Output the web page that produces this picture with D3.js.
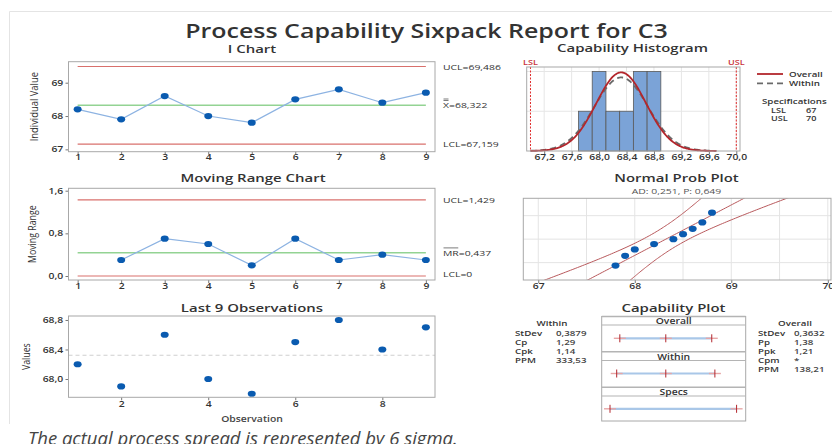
<!DOCTYPE html>
<html>
<head>
<meta charset="utf-8">
<script src="https://cdn.jsdelivr.net/npm/d3@7"></script>
<style>
  html, body { margin: 0; padding: 0; background: #fff; }
  svg { display: block; font-family: "Open Sans", "Noto Sans", sans-serif; }
</style>
</head>
<body>
<svg id="chart" width="832" height="444"></svg>
<script>
// ---- data: C3 observations and capability statistics ----
const observation = [1, 2, 3, 4, 5, 6, 7, 8, 9];
const c3Values = [68.2, 67.9, 68.6, 68.0, 67.8, 68.5, 68.8, 68.4, 68.7];
const movingRange = [null, 0.3, 0.7, 0.6, 0.2, 0.7, 0.3, 0.4, 0.3];

const iUCL = 69.486, iMean = 68.322, iLCL = 67.159;
const mrUCL = 1.429, mrMean = 0.437, mrLCL = 0;

const binStart = [67.7, 67.9, 68.1, 68.3, 68.5, 68.7];
const binCounts = [1, 2, 1, 1, 2, 2];
const binWidth = 0.2;

const LSL = 67, USL = 70;
const sdWithin = 0.3879, sdOverall = 0.3632;
const adText = "AD: 0,251, P: 0,649";

const iTicks = [67, 68, 69];
const mrTicks = [0, 0.8, 1.6];
const lastTicksY = [68.0, 68.4, 68.8];
const lastTicksX = [2, 4, 6, 8];
const histTicks = [67.2, 67.6, 68.0, 68.4, 68.8, 69.2, 69.6, 70.0];
const probTicks = [67, 68, 69, 70];
const probGridX = [67, 67.5, 68, 68.5, 69, 69.5, 70];
const probGridPct = [10, 50, 90];

const withinLabels = ["StDev", "Cp", "Cpk", "PPM"];
const withinValues = ["0,3879", "1,29", "1,14", "333,53"];
const overallLabels = ["StDev", "Pp", "Ppk", "Cpm", "PPM"];
const overallValues = ["0,3632", "1,38", "1,21", "*", "138,21"];

// ---- helpers ----
const SX = 1.3;                       // horizontal widening of lettering
const comma = (v, d) => v.toFixed(d).replace(".", ",");
const svg = d3.select("#chart");

function addText(parent, x, y, str, o = {}) {
  const g = parent.append("g")
    .attr("transform", `translate(${x},${y}) scale(${o.sx ?? SX},1)` + (o.rotate ? " rotate(-90)" : ""));
  const t = g.append("text").text(str)
    .attr("font-size", o.size ?? 8)
    .attr("font-weight", o.weight ?? 400)
    .attr("text-anchor", o.anchor ?? "start")
    .attr("fill", o.fill ?? "#333");
  if (o.italic) t.attr("font-style", "italic");
  return t;
}

function styleAxis(g) {
  g.select(".domain").remove();
  g.attr("font-family", null).attr("font-size", null);
  g.selectAll(".tick line").attr("stroke", "#777");
  g.selectAll(".tick text")
    .attr("font-size", 8).attr("font-weight", 600).attr("fill", "#333")
    .attr("transform", `scale(${SX},1)`);
}

function frame(x0, y0, x1, y1) {
  svg.append("rect").attr("x", x0).attr("y", y0)
    .attr("width", x1 - x0).attr("height", y1 - y0)
    .attr("fill", "none").attr("stroke", "#a8a8a8").attr("stroke-width", 1);
}

function hline(x0, x1, y, color, width, dash) {
  const l = svg.append("line").attr("x1", x0).attr("x2", x1).attr("y1", y).attr("y2", y)
    .attr("stroke", color).attr("stroke-width", width);
  if (dash) l.attr("stroke-dasharray", dash);
  return l;
}

function normPdf(x, m, s) {
  const z = (x - m) / s;
  return Math.exp(-0.5 * z * z) / (s * Math.sqrt(2 * Math.PI));
}

// inverse standard normal CDF (Acklam's rational approximation)
function probit(p) {
  const a = [-3.969683028665376e+01, 2.209460984245205e+02, -2.759285104469687e+02, 1.383577518672690e+02, -3.066479806614716e+01, 2.506628277459239e+00];
  const b = [-5.447609879822406e+01, 1.615858368580409e+02, -1.556989798598866e+02, 6.680131188771972e+01, -1.328068155288572e+01];
  const c = [-7.784894002430293e-03, -3.223964580411365e-01, -2.400758277161838e+00, -2.549732539343734e+00, 4.374664141464968e+00, 2.938163982698783e+00];
  const d = [7.784695709041462e-03, 3.224671290700398e-01, 2.445134137142996e+00, 3.754408661907416e+00];
  const pl = 0.02425;
  let q, r;
  if (p < pl) {
    q = Math.sqrt(-2 * Math.log(p));
    return (((((c[0]*q+c[1])*q+c[2])*q+c[3])*q+c[4])*q+c[5]) / ((((d[0]*q+d[1])*q+d[2])*q+d[3])*q+1);
  }
  if (p > 1 - pl) {
    q = Math.sqrt(-2 * Math.log(1 - p));
    return -(((((c[0]*q+c[1])*q+c[2])*q+c[3])*q+c[4])*q+c[5]) / ((((d[0]*q+d[1])*q+d[2])*q+d[3])*q+1);
  }
  q = p - 0.5; r = q * q;
  return (((((a[0]*r+a[1])*r+a[2])*r+a[3])*r+a[4])*r+a[5])*q / (((((b[0]*r+b[1])*r+b[2])*r+b[3])*r+b[4])*r+1);
}

const BLUE = "#0a5bb0", LINEBLUE = "#8db3e2", RED = "#d9706c", GREEN = "#93d393";

// ---- page border and title ----
svg.append("path").attr("d", "M9.5,424 V11.5 H832").attr("fill", "none").attr("stroke", "#e4e4e4");
addText(svg, 426.5, 38, "Process Capability Sixpack Report for C3", { size: 19.2, weight: 600, anchor: "middle", fill: "#333" });

// ---- I chart ----
{
  const x0 = 68.5, x1 = 435, y0 = 61.7, y1 = 151.7;
  const x = d3.scaleLinear().domain([0.79, 9.21]).range([x0, x1]);
  const y = d3.scaleLinear().domain([66.93, 69.63]).range([y1, y0]);
  addText(svg, 252, 53, "I Chart", { size: 11.5, weight: 600, anchor: "middle" });
  svg.append("g").attr("transform", `translate(${x0},0)`)
    .call(d3.axisLeft(y).tickValues(iTicks).tickSize(3).tickPadding(1).tickFormat(d => d3.format("d")(d)))
    .call(styleAxis);
  svg.append("g").attr("transform", `translate(0,${y1})`)
    .call(d3.axisBottom(x).tickValues(observation).tickSize(3).tickPadding(0).tickFormat(d3.format("d")))
    .call(styleAxis);
  hline(x(1), x(9), y(iUCL), RED, 1.2);
  hline(x(1), x(9), y(iLCL), RED, 1.2);
  hline(x(1), x(9), y(iMean), GREEN, 1.6);
  svg.append("path").datum(c3Values)
    .attr("d", d3.line().x((d, i) => x(observation[i])).y(d => y(d)))
    .attr("fill", "none").attr("stroke", LINEBLUE).attr("stroke-width", 1.2);
  svg.append("g").selectAll("ellipse").data(c3Values).join("ellipse")
    .attr("cx", (d, i) => x(observation[i])).attr("cy", d => y(d))
    .attr("rx", 4).attr("ry", 3.1).attr("fill", BLUE);
  frame(x0, y0, x1, y1);
  addText(svg, 443, y(iUCL) + 3, "UCL=" + comma(iUCL, 3));
  addText(svg, 443, y(iLCL) + 3, "LCL=" + comma(iLCL, 3));
  const xb = addText(svg, 443, y(iMean) + 3, "X");
  const w = xb.node().getComputedTextLength() * SX;
  addText(svg, 443 + w, y(iMean) + 3, "=" + comma(iMean, 3));
  hline(443.5, 443 + w - 0.5, y(iMean) - 4.8, "#444", 0.7);
  hline(443.5, 443 + w - 0.5, y(iMean) - 6.3, "#444", 0.7);
  addText(svg, 38, (y0 + y1) / 2, "Individual Value", { size: 9.4, anchor: "middle", rotate: true, sx: 1.15 });
}

// ---- Moving range chart ----
{
  const x0 = 68.5, x1 = 435, y0 = 188.3, y1 = 280;
  const x = d3.scaleLinear().domain([0.79, 9.21]).range([x0, x1]);
  const y = d3.scaleLinear().domain([-0.075, 1.645]).range([y1, y0]);
  addText(svg, 253, 182, "Moving Range Chart", { size: 11.5, weight: 600, anchor: "middle" });
  svg.append("g").attr("transform", `translate(${x0},0)`)
    .call(d3.axisLeft(y).tickValues(mrTicks).tickSize(3).tickPadding(1).tickFormat(d => comma(d, 1)))
    .call(styleAxis);
  svg.append("g").attr("transform", `translate(0,${y1})`)
    .call(d3.axisBottom(x).tickValues(observation).tickSize(3).tickPadding(0).tickFormat(d3.format("d")))
    .call(styleAxis);
  hline(x(1), x(9), y(mrUCL), RED, 1.2);
  hline(x(1), x(9), y(mrLCL), RED, 1.2);
  hline(x(1), x(9), y(mrMean), GREEN, 1.6);
  const mr = observation.map((o, i) => ({ o, v: movingRange[i] })).filter(d => d.v !== null);
  svg.append("path").datum(mr)
    .attr("d", d3.line().x(d => x(d.o)).y(d => y(d.v)))
    .attr("fill", "none").attr("stroke", LINEBLUE).attr("stroke-width", 1.2);
  svg.append("g").selectAll("ellipse").data(mr).join("ellipse")
    .attr("cx", d => x(d.o)).attr("cy", d => y(d.v))
    .attr("rx", 4).attr("ry", 3.1).attr("fill", BLUE);
  frame(x0, y0, x1, y1);
  addText(svg, 443, y(mrUCL) + 3, "UCL=" + comma(mrUCL, 3));
  addText(svg, 443, y(mrLCL) + 1, "LCL=" + comma(mrLCL, 0));
  const mrb = addText(svg, 443, y(mrMean) + 3, "MR");
  const w = mrb.node().getComputedTextLength() * SX;
  addText(svg, 443 + w, y(mrMean) + 3, "=" + comma(mrMean, 3));
  hline(443.5, 443 + w - 0.5, y(mrMean) - 4.8, "#444", 0.7);
  addText(svg, 36, (y0 + y1) / 2, "Moving Range", { size: 8.8, anchor: "middle", rotate: true, sx: 1.15 });
}

// ---- Last 9 observations ----
{
  const x0 = 68.5, x1 = 435, y0 = 316, y1 = 397.3;
  const x = d3.scaleLinear().domain([0.79, 9.21]).range([x0, x1]);
  const y = d3.scaleLinear().domain([67.752, 68.854]).range([y1, y0]);
  addText(svg, 252, 311.5, "Last 9 Observations", { size: 11.5, weight: 600, anchor: "middle" });
  svg.append("g").attr("transform", `translate(${x0},0)`)
    .call(d3.axisLeft(y).tickValues(lastTicksY).tickSize(3).tickPadding(1).tickFormat(d => comma(d, 1)))
    .call(styleAxis);
  svg.append("g").attr("transform", `translate(0,${y1})`)
    .call(d3.axisBottom(x).tickValues(lastTicksX).tickSize(3).tickPadding(1).tickFormat(d3.format("d")))
    .call(styleAxis);
  hline(x0, x1, y(iMean), "#cfcfcf", 1.2, "4,3");
  svg.append("g").selectAll("ellipse").data(c3Values).join("ellipse")
    .attr("cx", (d, i) => x(observation[i])).attr("cy", d => y(d))
    .attr("rx", 4).attr("ry", 3.1).attr("fill", BLUE);
  frame(x0, y0, x1, y1);
  addText(svg, 252, 421.5, "Observation", { size: 8, weight: 600, anchor: "middle", fill: "#444" });
  addText(svg, 30, (y0 + y1) / 2, "Values", { size: 8.8, anchor: "middle", rotate: true, sx: 1.15 });
}

// ---- Capability histogram ----
{
  const x0 = 526.7, x1 = 740, y0 = 67, y1 = 151;
  const x = d3.scaleLinear().domain([66.945, 70.054]).range([x0, x1]);
  const y = d3.scaleLinear().domain([0, 2.113]).range([y1, y0]);
  addText(svg, 632.5, 52, "Capability Histogram", { size: 11.5, weight: 600, anchor: "middle" });
  const grid = svg.append("g").attr("stroke", "#e6e6e6").attr("stroke-width", 1);
  histTicks.forEach(t => grid.append("line").attr("x1", x(t)).attr("x2", x(t)).attr("y1", y0).attr("y2", y1));
  [1, 2].forEach(c => grid.append("line").attr("x1", x0).attr("x2", x1).attr("y1", y(c)).attr("y2", y(c)));
  svg.append("g").selectAll("rect").data(binStart).join("rect")
    .attr("x", d => x(d)).attr("width", d => x(d + binWidth) - x(d))
    .attr("y", (d, i) => y(binCounts[i])).attr("height", (d, i) => y(0) - y(binCounts[i]))
    .attr("fill", "#7ba3d7").attr("stroke", "#5a5a5a").attr("stroke-width", 0.8);
  const xs = d3.range(67.0, 69.72, 0.01);
  const area = binWidth * c3Values.length;
  svg.append("path").datum(xs)
    .attr("d", d3.line().x(d => x(d)).y(d => y(area * normPdf(d, iMean, sdWithin))))
    .attr("fill", "none").attr("stroke", "#6a6a6a").attr("stroke-width", 1.8).attr("stroke-dasharray", "6,4");
  svg.append("path").datum(xs)
    .attr("d", d3.line().x(d => x(d)).y(d => y(area * normPdf(d, iMean, sdOverall))))
    .attr("fill", "none").attr("stroke", "#b3262c").attr("stroke-width", 1.8);
  [LSL, USL].forEach(s => svg.append("line").attr("x1", x(s)).attr("x2", x(s)).attr("y1", y0).attr("y2", y1)
    .attr("stroke", "#e02a2a").attr("stroke-width", 1).attr("stroke-dasharray", "2,1.5"));
  addText(svg, x(LSL), 64.5, "LSL", { size: 7, weight: 600, anchor: "middle", fill: "#c8323a" });
  addText(svg, x(USL), 64.5, "USL", { size: 7, weight: 600, anchor: "middle", fill: "#c8323a" });
  svg.append("g").attr("transform", `translate(0,${y1})`)
    .call(d3.axisBottom(x).tickValues(histTicks).tickSize(3).tickPadding(0).tickFormat(d => comma(d, 1)))
    .call(styleAxis);
  frame(x0, y0, x1, y1);
  // legend
  hline(757, 783, 74, "#b3262c", 1.8);
  hline(757, 783, 83.3, "#6a6a6a", 1.8, "6,4");
  addText(svg, 789, 77, "Overall", { size: 7.5, weight: 600 });
  addText(svg, 789, 86.3, "Within", { size: 7.5, weight: 600 });
  addText(svg, 762, 104, "Specifications", { size: 7.5, weight: 600 });
  addText(svg, 771, 112.8, "LSL", { size: 7, weight: 600 });
  addText(svg, 806, 112.8, String(LSL), { size: 7, weight: 600 });
  addText(svg, 771, 121.2, "USL", { size: 7, weight: 600 });
  addText(svg, 806, 121.2, String(USL), { size: 7, weight: 600 });
}

// ---- Normal probability plot ----
{
  const x0 = 523.3, x1 = 831, y0 = 198.3, y1 = 280;
  const x = d3.scaleLinear().domain([66.845, 70.033]).range([x0, x1]);
  const y = d3.scaleLinear().domain([-2.23, 2.23]).range([y1, y0]);
  addText(svg, 676.5, 181.5, "Normal Prob Plot", { size: 11.5, weight: 600, anchor: "middle" });
  addText(svg, 676.5, 193.5, adText, { size: 8, anchor: "middle", fill: "#555" });
  const grid = svg.append("g").attr("stroke", "#e4e4e4").attr("stroke-width", 1);
  probGridX.forEach(t => grid.append("line").attr("x1", x(t)).attr("x2", x(t)).attr("y1", y0).attr("y2", y1));
  probGridPct.forEach(p => grid.append("line").attr("x1", x0).attr("x2", x1)
    .attr("y1", y(probit(p / 100))).attr("y2", y(probit(p / 100))));
  svg.append("clipPath").attr("id", "probClip").append("rect")
    .attr("x", x0).attr("y", y0).attr("width", x1 - x0).attr("height", y1 - y0);
  const n = c3Values.length;
  const zs = d3.range(-2.6, 2.61, 0.05);
  const half = z => 1.96 * sdOverall * Math.sqrt(1 / n + z * z / (2 * n));
  const fit = z => iMean + z * sdOverall;
  const lines = svg.append("g").attr("clip-path", "url(#probClip)")
    .attr("fill", "none").attr("stroke", "#b8595c").attr("stroke-width", 1);
  [z => fit(z), z => fit(z) - half(z), z => fit(z) + half(z)].forEach(f =>
    lines.append("path").datum(zs).attr("d", d3.line().x(z => x(f(z))).y(z => y(z))));
  const sorted = c3Values.slice().sort(d3.ascending);
  svg.append("g").selectAll("ellipse").data(sorted).join("ellipse")
    .attr("cx", d => x(d)).attr("cy", (d, i) => y(probit((i + 1 - 0.3) / (n + 0.4))))
    .attr("rx", 4).attr("ry", 3.1).attr("fill", BLUE);
  svg.append("g").attr("transform", `translate(0,${y1})`)
    .call(d3.axisBottom(x).tickValues(probTicks).tickSize(3).tickPadding(0).tickFormat(d3.format("d")))
    .call(styleAxis);
  frame(x0, y0, x1, y1);
}

// ---- Capability plot ----
{
  const x0 = 601.7, x1 = 745.7, y0 = 316.5, y1 = 421;
  const x = d3.scaleLinear().domain([66.803, 70.216]).range([x0, x1]);
  addText(svg, 673.5, 311.5, "Capability Plot", { size: 11.5, weight: 600, anchor: "middle" });
  svg.append("rect").attr("x", x0).attr("y", y0).attr("width", x1 - x0).attr("height", y1 - y0)
    .attr("fill", "#fff").attr("stroke", "#a8a8a8");
  const headers = [
    { name: "Overall", top: 316.5, bottom: 325, row: 338.3, ticks: [iMean - 3 * sdOverall, iMean, iMean + 3 * sdOverall] },
    { name: "Within", top: 351.7, bottom: 360.5, row: 373.5, ticks: [iMean - 3 * sdWithin, iMean, iMean + 3 * sdWithin] },
    { name: "Specs", top: 387.2, bottom: 396, row: 408.8, ticks: [LSL, USL] }
  ];
  headers.forEach(h => {
    hline(x0, x1, h.top, "#b4b4b4", 1.6);
    hline(x0, x1, h.bottom, "#b4b4b4", 1.2);
    addText(svg, (x0 + x1) / 2, h.bottom - 1, h.name, { size: 8, weight: 600, anchor: "middle" });
    const t = h.ticks;
    hline(x(t[0]), x(t[t.length - 1]), h.row, "#a9c7e8", 2.2);
    t.forEach(v => {
      hline(x(v) - 6, x(v) + 6, h.row, "#e7a6a6", 1.4);
      svg.append("line").attr("x1", x(v)).attr("x2", x(v)).attr("y1", h.row - 4).attr("y2", h.row + 4)
        .attr("stroke", "#b3262c").attr("stroke-width", 1);
    });
  });
  // statistics tables
  addText(svg, 552, 326, "Within", { size: 7.5, weight: 600, anchor: "middle" });
  withinLabels.forEach((l, i) => {
    addText(svg, 515, 336 + i * 9.1, l, { size: 7.5, weight: 600 });
    addText(svg, 556, 336 + i * 9.1, withinValues[i], { size: 7.5, weight: 600, fill: "#444" });
  });
  addText(svg, 795, 326, "Overall", { size: 7.5, weight: 600, anchor: "middle" });
  overallLabels.forEach((l, i) => {
    addText(svg, 758, 336 + i * 9.1, l, { size: 7.5, weight: 600 });
    addText(svg, 794, 336 + i * 9.1, overallValues[i], { size: 7.5, weight: 600, fill: "#444" });
  });
}

// ---- caption ----
addText(svg, 28, 445, "The actual process spread is represented by 6 sigma.", { size: 18.5, italic: true, sx: 1.0, fill: "#444" });
</script>
</body>
</html>
